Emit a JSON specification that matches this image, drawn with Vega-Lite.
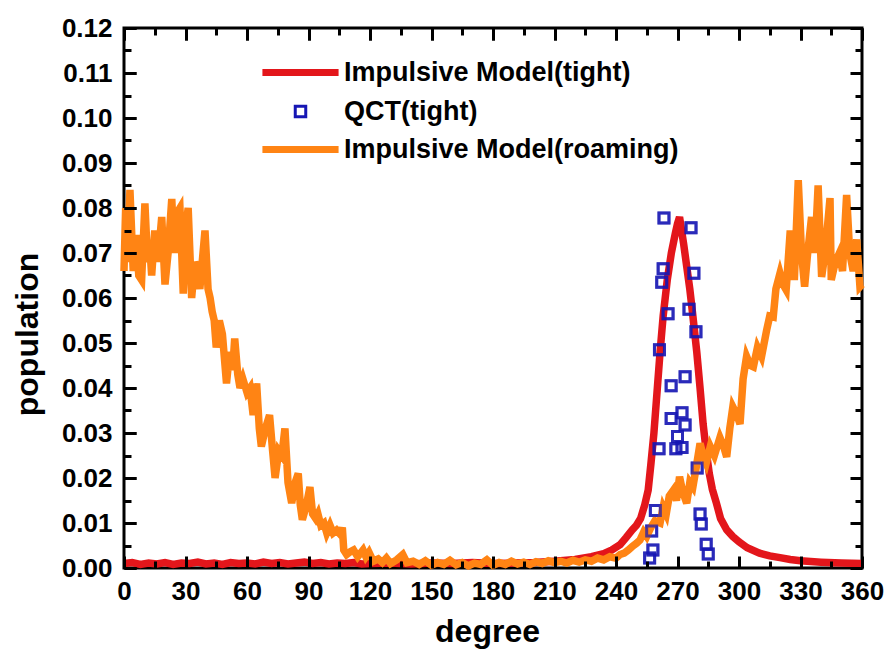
{
  "$schema": "https://vega.github.io/schema/vega-lite/v6.json",
  "width": 738,
  "height": 540,
  "autosize": {"type": "none"},
  "padding": {"left": 124, "top": 28, "right": 26, "bottom": 84},
  "background": "white",
  "config": {
    "view": {"stroke": "black", "strokeWidth": 3},
    "font": "Liberation Sans",
    "axis": {
      "labelFont": "Liberation Sans", "labelFontWeight": "bold", "labelFontSize": 26, "labelColor": "black",
      "domain": false, "tickColor": "black", "tickWidth": 3, "ticks": true,
      "grid": true, "gridColor": "black", "gridWidth": 3, "gridOpacity": 1,
      "titleFont": "Liberation Sans", "titleFontWeight": "bold", "titleFontSize": 32, "titleColor": "black"
    }
  },
  "datasets": {
    "red": [
      {"deg":0,"pop":0.0010,"series":"Impulsive Model(tight)"},{"deg":4,"pop":0.0012,"series":"Impulsive Model(tight)"},{"deg":8,"pop":0.0008,"series":"Impulsive Model(tight)"},{"deg":12,"pop":0.0011,"series":"Impulsive Model(tight)"},{"deg":16,"pop":0.0009,"series":"Impulsive Model(tight)"},{"deg":20,"pop":0.0012,"series":"Impulsive Model(tight)"},{"deg":24,"pop":0.0008,"series":"Impulsive Model(tight)"},{"deg":28,"pop":0.0011,"series":"Impulsive Model(tight)"},{"deg":32,"pop":0.0010,"series":"Impulsive Model(tight)"},{"deg":36,"pop":0.0013,"series":"Impulsive Model(tight)"},{"deg":40,"pop":0.0009,"series":"Impulsive Model(tight)"},{"deg":44,"pop":0.0011,"series":"Impulsive Model(tight)"},{"deg":48,"pop":0.0008,"series":"Impulsive Model(tight)"},{"deg":52,"pop":0.0012,"series":"Impulsive Model(tight)"},{"deg":56,"pop":0.0010,"series":"Impulsive Model(tight)"},{"deg":60,"pop":0.0011,"series":"Impulsive Model(tight)"},{"deg":64,"pop":0.0009,"series":"Impulsive Model(tight)"},{"deg":68,"pop":0.0013,"series":"Impulsive Model(tight)"},{"deg":72,"pop":0.0010,"series":"Impulsive Model(tight)"},{"deg":76,"pop":0.0012,"series":"Impulsive Model(tight)"},{"deg":80,"pop":0.0009,"series":"Impulsive Model(tight)"},{"deg":84,"pop":0.0011,"series":"Impulsive Model(tight)"},{"deg":88,"pop":0.0013,"series":"Impulsive Model(tight)"},{"deg":92,"pop":0.0010,"series":"Impulsive Model(tight)"},{"deg":96,"pop":0.0012,"series":"Impulsive Model(tight)"},{"deg":100,"pop":0.0009,"series":"Impulsive Model(tight)"},{"deg":104,"pop":0.0011,"series":"Impulsive Model(tight)"},{"deg":108,"pop":0.0010,"series":"Impulsive Model(tight)"},{"deg":112,"pop":0.0012,"series":"Impulsive Model(tight)"},{"deg":116,"pop":0.0009,"series":"Impulsive Model(tight)"},{"deg":120,"pop":0.0010,"series":"Impulsive Model(tight)"},{"deg":130,"pop":0.0011,"series":"Impulsive Model(tight)"},{"deg":140,"pop":0.0009,"series":"Impulsive Model(tight)"},{"deg":150,"pop":0.0011,"series":"Impulsive Model(tight)"},{"deg":160,"pop":0.0010,"series":"Impulsive Model(tight)"},{"deg":170,"pop":0.0012,"series":"Impulsive Model(tight)"},{"deg":180,"pop":0.0010,"series":"Impulsive Model(tight)"},{"deg":190,"pop":0.0011,"series":"Impulsive Model(tight)"},{"deg":200,"pop":0.0012,"series":"Impulsive Model(tight)"},{"deg":210,"pop":0.0015,"series":"Impulsive Model(tight)"},{"deg":220,"pop":0.0019,"series":"Impulsive Model(tight)"},{"deg":228,"pop":0.0025,"series":"Impulsive Model(tight)"},{"deg":234,"pop":0.0032,"series":"Impulsive Model(tight)"},{"deg":238,"pop":0.0040,"series":"Impulsive Model(tight)"},{"deg":242,"pop":0.0052,"series":"Impulsive Model(tight)"},{"deg":245,"pop":0.0068,"series":"Impulsive Model(tight)"},{"deg":248,"pop":0.0085,"series":"Impulsive Model(tight)"},{"deg":250,"pop":0.0095,"series":"Impulsive Model(tight)"},{"deg":252,"pop":0.0110,"series":"Impulsive Model(tight)"},{"deg":254,"pop":0.0140,"series":"Impulsive Model(tight)"},{"deg":255.7,"pop":0.0173,"series":"Impulsive Model(tight)"},{"deg":257,"pop":0.0230,"series":"Impulsive Model(tight)"},{"deg":258.5,"pop":0.0300,"series":"Impulsive Model(tight)"},{"deg":260,"pop":0.0390,"series":"Impulsive Model(tight)"},{"deg":261.5,"pop":0.0480,"series":"Impulsive Model(tight)"},{"deg":263,"pop":0.0560,"series":"Impulsive Model(tight)"},{"deg":265,"pop":0.0640,"series":"Impulsive Model(tight)"},{"deg":267,"pop":0.0700,"series":"Impulsive Model(tight)"},{"deg":269,"pop":0.0745,"series":"Impulsive Model(tight)"},{"deg":270,"pop":0.0765,"series":"Impulsive Model(tight)"},{"deg":271,"pop":0.0780,"series":"Impulsive Model(tight)"},{"deg":272,"pop":0.0750,"series":"Impulsive Model(tight)"},{"deg":273,"pop":0.0720,"series":"Impulsive Model(tight)"},{"deg":274.5,"pop":0.0670,"series":"Impulsive Model(tight)"},{"deg":276,"pop":0.0620,"series":"Impulsive Model(tight)"},{"deg":277.5,"pop":0.0560,"series":"Impulsive Model(tight)"},{"deg":279.4,"pop":0.0480,"series":"Impulsive Model(tight)"},{"deg":281,"pop":0.0400,"series":"Impulsive Model(tight)"},{"deg":282.5,"pop":0.0320,"series":"Impulsive Model(tight)"},{"deg":284,"pop":0.0260,"series":"Impulsive Model(tight)"},{"deg":285.5,"pop":0.0210,"series":"Impulsive Model(tight)"},{"deg":287,"pop":0.0175,"series":"Impulsive Model(tight)"},{"deg":289,"pop":0.0144,"series":"Impulsive Model(tight)"},{"deg":291,"pop":0.0110,"series":"Impulsive Model(tight)"},{"deg":294,"pop":0.0085,"series":"Impulsive Model(tight)"},{"deg":297,"pop":0.0070,"series":"Impulsive Model(tight)"},{"deg":300,"pop":0.0058,"series":"Impulsive Model(tight)"},{"deg":304,"pop":0.0045,"series":"Impulsive Model(tight)"},{"deg":310,"pop":0.0033,"series":"Impulsive Model(tight)"},{"deg":315,"pop":0.0027,"series":"Impulsive Model(tight)"},{"deg":320,"pop":0.0023,"series":"Impulsive Model(tight)"},{"deg":325,"pop":0.0019,"series":"Impulsive Model(tight)"},{"deg":330,"pop":0.0016,"series":"Impulsive Model(tight)"},{"deg":340,"pop":0.0013,"series":"Impulsive Model(tight)"},{"deg":350,"pop":0.0011,"series":"Impulsive Model(tight)"},{"deg":360,"pop":0.0010,"series":"Impulsive Model(tight)"}
    ],
    "qct": [
      {"deg":263.4,"pop":0.0778,"series":"QCT(tight)"},{"deg":276.6,"pop":0.0756,"series":"QCT(tight)"},{"deg":263.0,"pop":0.0665,"series":"QCT(tight)"},{"deg":262.3,"pop":0.0635,"series":"QCT(tight)"},{"deg":278.0,"pop":0.0655,"series":"QCT(tight)"},{"deg":265.4,"pop":0.0565,"series":"QCT(tight)"},{"deg":275.6,"pop":0.0575,"series":"QCT(tight)"},{"deg":279.0,"pop":0.0525,"series":"QCT(tight)"},{"deg":261.2,"pop":0.0485,"series":"QCT(tight)"},{"deg":273.7,"pop":0.0425,"series":"QCT(tight)"},{"deg":266.9,"pop":0.0405,"series":"QCT(tight)"},{"deg":272.2,"pop":0.0345,"series":"QCT(tight)"},{"deg":266.9,"pop":0.0332,"series":"QCT(tight)"},{"deg":273.7,"pop":0.0318,"series":"QCT(tight)"},{"deg":270.0,"pop":0.0292,"series":"QCT(tight)"},{"deg":269.2,"pop":0.0265,"series":"QCT(tight)"},{"deg":261.0,"pop":0.0265,"series":"QCT(tight)"},{"deg":272.2,"pop":0.0268,"series":"QCT(tight)"},{"deg":279.6,"pop":0.0222,"series":"QCT(tight)"},{"deg":259.2,"pop":0.0128,"series":"QCT(tight)"},{"deg":257.4,"pop":0.0082,"series":"QCT(tight)"},{"deg":258.0,"pop":0.0040,"series":"QCT(tight)"},{"deg":256.4,"pop":0.0022,"series":"QCT(tight)"},{"deg":281.0,"pop":0.0120,"series":"QCT(tight)"},{"deg":281.6,"pop":0.0098,"series":"QCT(tight)"},{"deg":284.0,"pop":0.0053,"series":"QCT(tight)"},{"deg":285.0,"pop":0.0031,"series":"QCT(tight)"}
    ],
    "orange": [
      {"deg":0,"pop":0.066,"series":"Impulsive Model(roaming)"},{"deg":0.8,"pop":0.080,"series":"Impulsive Model(roaming)"},{"deg":1.6,"pop":0.068,"series":"Impulsive Model(roaming)"},{"deg":2.9,"pop":0.084,"series":"Impulsive Model(roaming)"},{"deg":4.5,"pop":0.066,"series":"Impulsive Model(roaming)"},{"deg":6,"pop":0.074,"series":"Impulsive Model(roaming)"},{"deg":7.2,"pop":0.065,"series":"Impulsive Model(roaming)"},{"deg":8.6,"pop":0.064,"series":"Impulsive Model(roaming)"},{"deg":10.2,"pop":0.081,"series":"Impulsive Model(roaming)"},{"deg":11.5,"pop":0.068,"series":"Impulsive Model(roaming)"},{"deg":12.5,"pop":0.072,"series":"Impulsive Model(roaming)"},{"deg":13.5,"pop":0.065,"series":"Impulsive Model(roaming)"},{"deg":15,"pop":0.075,"series":"Impulsive Model(roaming)"},{"deg":16.5,"pop":0.068,"series":"Impulsive Model(roaming)"},{"deg":18.4,"pop":0.078,"series":"Impulsive Model(roaming)"},{"deg":20,"pop":0.063,"series":"Impulsive Model(roaming)"},{"deg":21.5,"pop":0.070,"series":"Impulsive Model(roaming)"},{"deg":23.3,"pop":0.082,"series":"Impulsive Model(roaming)"},{"deg":24.5,"pop":0.070,"series":"Impulsive Model(roaming)"},{"deg":26,"pop":0.079,"series":"Impulsive Model(roaming)"},{"deg":27.3,"pop":0.080,"series":"Impulsive Model(roaming)"},{"deg":28.9,"pop":0.061,"series":"Impulsive Model(roaming)"},{"deg":30,"pop":0.075,"series":"Impulsive Model(roaming)"},{"deg":31.3,"pop":0.080,"series":"Impulsive Model(roaming)"},{"deg":33,"pop":0.060,"series":"Impulsive Model(roaming)"},{"deg":34.5,"pop":0.068,"series":"Impulsive Model(roaming)"},{"deg":36,"pop":0.066,"series":"Impulsive Model(roaming)"},{"deg":37,"pop":0.062,"series":"Impulsive Model(roaming)"},{"deg":39.5,"pop":0.075,"series":"Impulsive Model(roaming)"},{"deg":41,"pop":0.062,"series":"Impulsive Model(roaming)"},{"deg":42,"pop":0.060,"series":"Impulsive Model(roaming)"},{"deg":43,"pop":0.057,"series":"Impulsive Model(roaming)"},{"deg":44,"pop":0.055,"series":"Impulsive Model(roaming)"},{"deg":45,"pop":0.049,"series":"Impulsive Model(roaming)"},{"deg":46.5,"pop":0.055,"series":"Impulsive Model(roaming)"},{"deg":48,"pop":0.052,"series":"Impulsive Model(roaming)"},{"deg":50,"pop":0.041,"series":"Impulsive Model(roaming)"},{"deg":51.5,"pop":0.048,"series":"Impulsive Model(roaming)"},{"deg":53,"pop":0.044,"series":"Impulsive Model(roaming)"},{"deg":54,"pop":0.051,"series":"Impulsive Model(roaming)"},{"deg":55.5,"pop":0.043,"series":"Impulsive Model(roaming)"},{"deg":56.6,"pop":0.040,"series":"Impulsive Model(roaming)"},{"deg":58,"pop":0.042,"series":"Impulsive Model(roaming)"},{"deg":60,"pop":0.039,"series":"Impulsive Model(roaming)"},{"deg":61.5,"pop":0.040,"series":"Impulsive Model(roaming)"},{"deg":63,"pop":0.034,"series":"Impulsive Model(roaming)"},{"deg":64.7,"pop":0.041,"series":"Impulsive Model(roaming)"},{"deg":66,"pop":0.031,"series":"Impulsive Model(roaming)"},{"deg":67,"pop":0.027,"series":"Impulsive Model(roaming)"},{"deg":69,"pop":0.031,"series":"Impulsive Model(roaming)"},{"deg":71,"pop":0.034,"series":"Impulsive Model(roaming)"},{"deg":72.5,"pop":0.026,"series":"Impulsive Model(roaming)"},{"deg":73.7,"pop":0.020,"series":"Impulsive Model(roaming)"},{"deg":75.5,"pop":0.026,"series":"Impulsive Model(roaming)"},{"deg":77,"pop":0.025,"series":"Impulsive Model(roaming)"},{"deg":78.5,"pop":0.031,"series":"Impulsive Model(roaming)"},{"deg":80,"pop":0.019,"series":"Impulsive Model(roaming)"},{"deg":81.8,"pop":0.0144,"series":"Impulsive Model(roaming)"},{"deg":83.5,"pop":0.019,"series":"Impulsive Model(roaming)"},{"deg":85,"pop":0.021,"series":"Impulsive Model(roaming)"},{"deg":86,"pop":0.014,"series":"Impulsive Model(roaming)"},{"deg":87,"pop":0.0107,"series":"Impulsive Model(roaming)"},{"deg":89,"pop":0.014,"series":"Impulsive Model(roaming)"},{"deg":90.7,"pop":0.018,"series":"Impulsive Model(roaming)"},{"deg":92,"pop":0.012,"series":"Impulsive Model(roaming)"},{"deg":93.5,"pop":0.011,"series":"Impulsive Model(roaming)"},{"deg":94.6,"pop":0.012,"series":"Impulsive Model(roaming)"},{"deg":96,"pop":0.0095,"series":"Impulsive Model(roaming)"},{"deg":97.5,"pop":0.010,"series":"Impulsive Model(roaming)"},{"deg":98.9,"pop":0.0078,"series":"Impulsive Model(roaming)"},{"deg":100.5,"pop":0.0095,"series":"Impulsive Model(roaming)"},{"deg":102,"pop":0.0078,"series":"Impulsive Model(roaming)"},{"deg":103.7,"pop":0.0084,"series":"Impulsive Model(roaming)"},{"deg":105.5,"pop":0.0075,"series":"Impulsive Model(roaming)"},{"deg":106.5,"pop":0.009,"series":"Impulsive Model(roaming)"},{"deg":107.2,"pop":0.004,"series":"Impulsive Model(roaming)"},{"deg":108.6,"pop":0.003,"series":"Impulsive Model(roaming)"},{"deg":110,"pop":0.0035,"series":"Impulsive Model(roaming)"},{"deg":112,"pop":0.004,"series":"Impulsive Model(roaming)"},{"deg":114,"pop":0.0025,"series":"Impulsive Model(roaming)"},{"deg":116.6,"pop":0.004,"series":"Impulsive Model(roaming)"},{"deg":118,"pop":0.0025,"series":"Impulsive Model(roaming)"},{"deg":119.5,"pop":0.0035,"series":"Impulsive Model(roaming)"},{"deg":121.6,"pop":0.0015,"series":"Impulsive Model(roaming)"},{"deg":124,"pop":0.002,"series":"Impulsive Model(roaming)"},{"deg":126,"pop":0.0012,"series":"Impulsive Model(roaming)"},{"deg":128,"pop":0.0022,"series":"Impulsive Model(roaming)"},{"deg":130,"pop":0.001,"series":"Impulsive Model(roaming)"},{"deg":133,"pop":0.0018,"series":"Impulsive Model(roaming)"},{"deg":136,"pop":0.003,"series":"Impulsive Model(roaming)"},{"deg":138,"pop":0.0012,"series":"Impulsive Model(roaming)"},{"deg":141,"pop":0.0015,"series":"Impulsive Model(roaming)"},{"deg":144,"pop":0.0008,"series":"Impulsive Model(roaming)"},{"deg":147,"pop":0.0016,"series":"Impulsive Model(roaming)"},{"deg":150,"pop":0.0006,"series":"Impulsive Model(roaming)"},{"deg":153,"pop":0.0012,"series":"Impulsive Model(roaming)"},{"deg":156,"pop":0.0008,"series":"Impulsive Model(roaming)"},{"deg":159,"pop":0.0017,"series":"Impulsive Model(roaming)"},{"deg":162,"pop":0.0007,"series":"Impulsive Model(roaming)"},{"deg":165,"pop":0.0012,"series":"Impulsive Model(roaming)"},{"deg":168,"pop":0.0005,"series":"Impulsive Model(roaming)"},{"deg":171,"pop":0.0011,"series":"Impulsive Model(roaming)"},{"deg":174,"pop":0.0008,"series":"Impulsive Model(roaming)"},{"deg":177,"pop":0.0018,"series":"Impulsive Model(roaming)"},{"deg":180,"pop":0.0006,"series":"Impulsive Model(roaming)"},{"deg":183,"pop":0.0012,"series":"Impulsive Model(roaming)"},{"deg":186,"pop":0.0008,"series":"Impulsive Model(roaming)"},{"deg":189,"pop":0.0015,"series":"Impulsive Model(roaming)"},{"deg":192,"pop":0.0009,"series":"Impulsive Model(roaming)"},{"deg":195,"pop":0.0013,"series":"Impulsive Model(roaming)"},{"deg":198,"pop":0.0008,"series":"Impulsive Model(roaming)"},{"deg":201,"pop":0.0014,"series":"Impulsive Model(roaming)"},{"deg":204,"pop":0.0010,"series":"Impulsive Model(roaming)"},{"deg":207,"pop":0.0016,"series":"Impulsive Model(roaming)"},{"deg":210,"pop":0.0012,"series":"Impulsive Model(roaming)"},{"deg":213,"pop":0.0015,"series":"Impulsive Model(roaming)"},{"deg":216,"pop":0.0011,"series":"Impulsive Model(roaming)"},{"deg":219,"pop":0.0017,"series":"Impulsive Model(roaming)"},{"deg":222,"pop":0.0013,"series":"Impulsive Model(roaming)"},{"deg":225,"pop":0.0018,"series":"Impulsive Model(roaming)"},{"deg":228,"pop":0.0015,"series":"Impulsive Model(roaming)"},{"deg":231,"pop":0.0022,"series":"Impulsive Model(roaming)"},{"deg":234,"pop":0.0018,"series":"Impulsive Model(roaming)"},{"deg":237,"pop":0.0025,"series":"Impulsive Model(roaming)"},{"deg":240,"pop":0.0022,"series":"Impulsive Model(roaming)"},{"deg":242,"pop":0.003,"series":"Impulsive Model(roaming)"},{"deg":244,"pop":0.0033,"series":"Impulsive Model(roaming)"},{"deg":246,"pop":0.004,"series":"Impulsive Model(roaming)"},{"deg":248,"pop":0.0048,"series":"Impulsive Model(roaming)"},{"deg":250,"pop":0.0055,"series":"Impulsive Model(roaming)"},{"deg":251.7,"pop":0.0062,"series":"Impulsive Model(roaming)"},{"deg":253.5,"pop":0.008,"series":"Impulsive Model(roaming)"},{"deg":255,"pop":0.007,"series":"Impulsive Model(roaming)"},{"deg":257,"pop":0.009,"series":"Impulsive Model(roaming)"},{"deg":259,"pop":0.0105,"series":"Impulsive Model(roaming)"},{"deg":261.5,"pop":0.010,"series":"Impulsive Model(roaming)"},{"deg":263,"pop":0.0135,"series":"Impulsive Model(roaming)"},{"deg":264.5,"pop":0.012,"series":"Impulsive Model(roaming)"},{"deg":266,"pop":0.016,"series":"Impulsive Model(roaming)"},{"deg":268,"pop":0.0173,"series":"Impulsive Model(roaming)"},{"deg":269.5,"pop":0.015,"series":"Impulsive Model(roaming)"},{"deg":271,"pop":0.0203,"series":"Impulsive Model(roaming)"},{"deg":272.5,"pop":0.017,"series":"Impulsive Model(roaming)"},{"deg":274.5,"pop":0.0144,"series":"Impulsive Model(roaming)"},{"deg":276,"pop":0.019,"series":"Impulsive Model(roaming)"},{"deg":277.5,"pop":0.018,"series":"Impulsive Model(roaming)"},{"deg":279,"pop":0.022,"series":"Impulsive Model(roaming)"},{"deg":281,"pop":0.0277,"series":"Impulsive Model(roaming)"},{"deg":282.5,"pop":0.025,"series":"Impulsive Model(roaming)"},{"deg":284,"pop":0.0233,"series":"Impulsive Model(roaming)"},{"deg":286,"pop":0.027,"series":"Impulsive Model(roaming)"},{"deg":288,"pop":0.025,"series":"Impulsive Model(roaming)"},{"deg":290.7,"pop":0.029,"series":"Impulsive Model(roaming)"},{"deg":292.5,"pop":0.027,"series":"Impulsive Model(roaming)"},{"deg":294,"pop":0.0247,"series":"Impulsive Model(roaming)"},{"deg":295.5,"pop":0.031,"series":"Impulsive Model(roaming)"},{"deg":297,"pop":0.0358,"series":"Impulsive Model(roaming)"},{"deg":299,"pop":0.034,"series":"Impulsive Model(roaming)"},{"deg":300.5,"pop":0.032,"series":"Impulsive Model(roaming)"},{"deg":302,"pop":0.042,"series":"Impulsive Model(roaming)"},{"deg":303.7,"pop":0.047,"series":"Impulsive Model(roaming)"},{"deg":305.5,"pop":0.045,"series":"Impulsive Model(roaming)"},{"deg":307,"pop":0.0447,"series":"Impulsive Model(roaming)"},{"deg":309,"pop":0.049,"series":"Impulsive Model(roaming)"},{"deg":311,"pop":0.047,"series":"Impulsive Model(roaming)"},{"deg":313.5,"pop":0.0529,"series":"Impulsive Model(roaming)"},{"deg":315,"pop":0.056,"series":"Impulsive Model(roaming)"},{"deg":316.7,"pop":0.0558,"series":"Impulsive Model(roaming)"},{"deg":318,"pop":0.062,"series":"Impulsive Model(roaming)"},{"deg":320,"pop":0.0655,"series":"Impulsive Model(roaming)"},{"deg":321.5,"pop":0.063,"series":"Impulsive Model(roaming)"},{"deg":323,"pop":0.0618,"series":"Impulsive Model(roaming)"},{"deg":325,"pop":0.075,"series":"Impulsive Model(roaming)"},{"deg":327,"pop":0.064,"series":"Impulsive Model(roaming)"},{"deg":328.9,"pop":0.0862,"series":"Impulsive Model(roaming)"},{"deg":330.5,"pop":0.070,"series":"Impulsive Model(roaming)"},{"deg":332,"pop":0.0625,"series":"Impulsive Model(roaming)"},{"deg":333.5,"pop":0.070,"series":"Impulsive Model(roaming)"},{"deg":335.4,"pop":0.078,"series":"Impulsive Model(roaming)"},{"deg":337,"pop":0.070,"series":"Impulsive Model(roaming)"},{"deg":338.6,"pop":0.085,"series":"Impulsive Model(roaming)"},{"deg":340.3,"pop":0.0647,"series":"Impulsive Model(roaming)"},{"deg":342,"pop":0.070,"series":"Impulsive Model(roaming)"},{"deg":344.4,"pop":0.0822,"series":"Impulsive Model(roaming)"},{"deg":345,"pop":0.064,"series":"Impulsive Model(roaming)"},{"deg":347,"pop":0.068,"series":"Impulsive Model(roaming)"},{"deg":349,"pop":0.070,"series":"Impulsive Model(roaming)"},{"deg":350.5,"pop":0.066,"series":"Impulsive Model(roaming)"},{"deg":352.5,"pop":0.0829,"series":"Impulsive Model(roaming)"},{"deg":354,"pop":0.070,"series":"Impulsive Model(roaming)"},{"deg":355.7,"pop":0.066,"series":"Impulsive Model(roaming)"},{"deg":357.4,"pop":0.073,"series":"Impulsive Model(roaming)"},{"deg":359,"pop":0.0625,"series":"Impulsive Model(roaming)"},{"deg":360,"pop":0.063,"series":"Impulsive Model(roaming)"}
    ]
  },
  "layer": [
    {
      "data": {"name": "red"},
      "mark": {"type": "line", "strokeWidth": 7.5},
      "encoding": {
        "x": {"field": "deg", "type": "quantitative", "scale": {"domain": [0, 360], "nice": false, "zero": false},
          "axis": {"orient": "bottom", "values": [0,30,60,90,120,150,180,210,240,270,300,330,360],
            "tickSize": 12, "offset": -12, "labelPadding": 10, "labelFlush": false, "labelOverlap": false,
            "gridDash": [12, 2000], "zindex": 1,
            "title": "degree", "titleX": 363, "titleY": 85, "titleBaseline": "alphabetic"}},
        "y": {"field": "pop", "type": "quantitative", "scale": {"domain": [0, 0.12], "nice": false, "zero": false},
          "axis": {"orient": "left", "values": [0,0.01,0.02,0.03,0.04,0.05,0.06,0.07,0.08,0.09,0.1,0.11,0.12], "format": ".2f",
            "tickSize": 12, "offset": -12, "labelPadding": 12, "labelFlush": false, "labelOverlap": false, "labelBaseline": "middle",
            "gridDash": [12, 2000], "zindex": 1,
            "title": "population", "titleX": -109, "titleY": 306, "titleAngle": -90, "titleAlign": "center", "titleBaseline": "middle"}},
        "color": {"field": "series", "type": "nominal",
          "scale": {"domain": ["Impulsive Model(tight)", "QCT(tight)", "Impulsive Model(roaming)"], "range": ["#e3161b", "#1616b4", "#ff8414"]},
          "legend": {"orient": "none", "legendX": 163, "legendY": 31, "title": null,
            "labelFont": "Liberation Sans", "labelFontSize": 27, "labelFontWeight": "bold", "labelColor": "black", "labelLimit": 0,
            "symbolType": "stroke", "symbolSize": 5800, "symbolStrokeWidth": 7, "rowPadding": 10, "labelOffset": 30,
            "encode": {"symbols": {"update": {
              "shape": {"signal": "datum.value === 'QCT(tight)' ? 'square' : 'stroke'"},
              "size": {"signal": "datum.value === 'QCT(tight)' ? 110 : 5800"},
              "strokeWidth": {"signal": "datum.value === 'QCT(tight)' ? 3 : 7"},
              "fill": {"value": "transparent"}}}}}}
      }
    },
    {
      "data": {"name": "qct"},
      "mark": {"type": "point", "shape": "square", "filled": false, "size": 100, "strokeWidth": 3},
      "encoding": {
        "x": {"field": "deg", "type": "quantitative",
          "axis": {"orient": "top", "values": [0,30,60,90,120,150,180,210,240,270,300,330,360], "labels": false, "title": null, "tickSize": 12, "offset": -12, "gridDash": [12, 2000], "zindex": 1}},
        "y": {"field": "pop", "type": "quantitative",
          "axis": {"orient": "right", "values": [0,0.01,0.02,0.03,0.04,0.05,0.06,0.07,0.08,0.09,0.1,0.11,0.12], "labels": false, "title": null, "tickSize": 12, "offset": -12, "gridDash": [12, 2000], "zindex": 1}},
        "color": {"field": "series", "type": "nominal"}
      }
    },
    {
      "data": {"name": "orange"},
      "mark": {"type": "line", "strokeWidth": 7.5},
      "encoding": {
        "x": {"field": "deg", "type": "quantitative",
          "axis": {"orient": "bottom", "values": [15,45,75,105,135,165,195,225,255,285,315,345], "labels": false, "title": null, "tickSize": 7, "offset": -7, "gridDash": [7, 2000], "zindex": 1}},
        "y": {"field": "pop", "type": "quantitative",
          "axis": {"orient": "left", "values": [0.005,0.015,0.025,0.035,0.045,0.055,0.065,0.075,0.085,0.095,0.105,0.115], "labels": false, "title": null, "tickSize": 7, "offset": -7, "gridDash": [7, 2000], "zindex": 1}},
        "color": {"field": "series", "type": "nominal"}
      }
    },
    {
      "data": {"name": "qct"},
      "mark": {"type": "point", "shape": "square", "filled": false, "size": 100, "strokeWidth": 3},
      "encoding": {
        "x": {"field": "deg", "type": "quantitative",
          "axis": {"orient": "top", "values": [15,45,75,105,135,165,195,225,255,285,315,345], "labels": false, "title": null, "tickSize": 7, "offset": -7, "gridDash": [7, 2000], "zindex": 1}},
        "y": {"field": "pop", "type": "quantitative",
          "axis": {"orient": "right", "values": [0.005,0.015,0.025,0.035,0.045,0.055,0.065,0.075,0.085,0.095,0.105,0.115], "labels": false, "title": null, "tickSize": 7, "offset": -7, "gridDash": [7, 2000], "zindex": 1}},
        "color": {"field": "series", "type": "nominal"}
      }
    }
  ],
  "resolve": {"axis": {"x": "independent", "y": "independent"}}
}
